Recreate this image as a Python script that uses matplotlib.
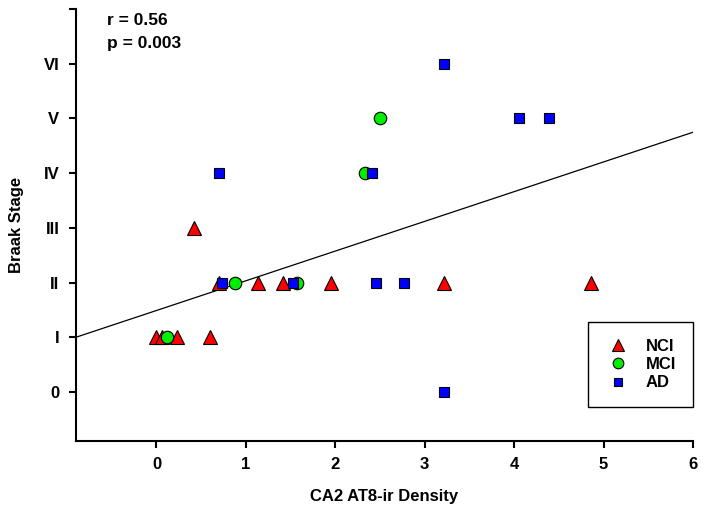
# Braak stage vs CA2 AT8-ir density, by diagnostic group
import numpy as np
import matplotlib.pyplot as plt

plt.rcParams['font.family'] = ['Liberation Sans', 'DejaVu Sans']
plt.rcParams['font.weight'] = 'bold'

# values
nci_x = [0.00, 0.06, 0.23, 0.60, 0.42, 0.70, 1.14, 1.41, 1.95, 3.22, 4.86]
nci_y = [1, 1, 1, 1, 3, 2, 2, 2, 2, 2, 2]

mci_x = [0.12, 0.88, 1.57, 2.33, 2.50]
mci_y = [1, 2, 2, 4, 5]

ad_x = [3.22, 4.05, 4.39, 0.70, 2.41, 0.73, 1.53, 2.45, 2.77, 3.22]
ad_y = [6, 5, 5, 4, 4, 2, 2, 2, 2, 0]

# regression line
fit_intercept = 1.49
fit_slope = 0.543

stage_labels = ['0', 'I', 'II', 'III', 'IV', 'V', 'VI', '']

fig = plt.figure(figsize=(7.15, 5.18), dpi=100)
ax = fig.add_axes([0.1063, 0.1492, 0.8629, 0.8334])

xl = np.array([-0.9, 6.0])
ax.plot(xl, fit_intercept + fit_slope * xl, color='black', linewidth=0.9, zorder=1)

ax.plot(nci_x, nci_y, '^', color='red', markeredgecolor='black', markeredgewidth=0.8,
        markersize=9.5, label='NCI', linestyle='none', zorder=2)
ax.plot(mci_x, mci_y, 'o', color='#00ee00', markeredgecolor='black', markeredgewidth=0.8,
        markersize=9, label='MCI', linestyle='none', zorder=3)
ax.plot(ad_x, ad_y, 's', color='blue', markeredgecolor='black', markeredgewidth=0.8,
        markersize=7.5, label='AD', linestyle='none', zorder=4)

ax.set_xlim(-0.9, 6.0)
ax.set_ylim(-0.89, 7.0)
ax.set_xticks(range(0, 7))
ax.set_yticks(range(0, 8))
ax.set_yticklabels(stage_labels)

for s in ['top', 'right']:
    ax.spines[s].set_visible(False)
for s in ['left', 'bottom']:
    ax.spines[s].set_linewidth(1.5)
ax.tick_params(direction='out', length=5, width=1.5, labelsize=12, pad=7)

ax.set_xlabel('CA2 AT8-ir Density', fontsize=12, fontweight='bold', labelpad=12)
ax.set_ylabel('Braak Stage', fontsize=12, fontweight='bold', labelpad=14)

ax.text(0.05, 0.973, 'r = 0.56', transform=ax.transAxes, fontsize=12.5, fontweight='bold', va='center')
ax.text(0.05, 0.92, 'p = 0.003', transform=ax.transAxes, fontsize=12.5, fontweight='bold', va='center')

leg = ax.legend(loc='lower right', bbox_to_anchor=(1.0, 0.078), fancybox=False,
                edgecolor='black', framealpha=1, fontsize=12, borderpad=1.0,
                handlelength=1.6, handletextpad=0.9, labelspacing=0.2, borderaxespad=0,
                markerscale=0.85)
leg.get_frame().set_linewidth(1.0)

fig.savefig('out.png', dpi=100)
